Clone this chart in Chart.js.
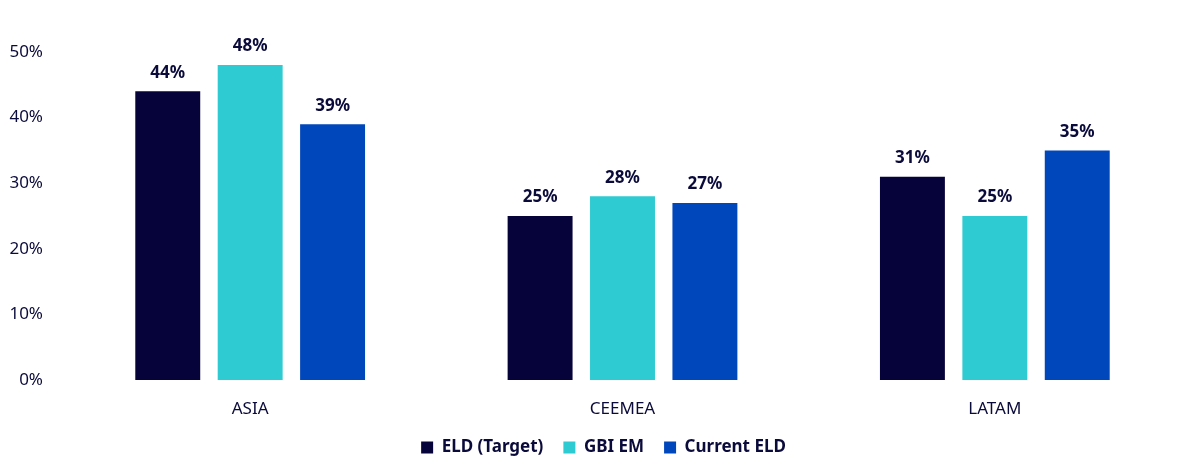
<!DOCTYPE html>
<html>
<head>
<meta charset="utf-8">
<script src="https://cdn.jsdelivr.net/npm/chart.js@4"></script>
<style>
  html, body { margin: 0; padding: 0; background: #fff; }
  #wrap { width: 1200px; height: 476px; }
</style>
</head>
<body>
<div id="wrap"><canvas id="regionChart"></canvas></div>
<script>
const regions = ['ASIA', 'CEEMEA', 'LATAM'];
const eldTarget = [44, 25, 31];
const gbiEm = [48, 28, 25];
const currentEld = [39, 27, 35];
const yTicks = [0, 10, 20, 30, 40, 50];

const textColor = '#0b0b3b';
const fontFamily = '"Source Sans Pro", "Noto Sans", "Open Sans", sans-serif';

// labels on top of each bar
const barLabels = {
    id: 'barLabels',
    afterLayout(chart) {
        // legend sits a bit right of centre in the original
        if (chart.legend) {
            chart.legend.left += 13;
            chart.legend.right += 13;
        }
    },
    afterDatasetsDraw(chart) {
        const ctx = chart.ctx;
        ctx.save();
        ctx.font = 'bold 17px ' + fontFamily;
        ctx.fillStyle = textColor;
        ctx.textAlign = 'center';
        ctx.textBaseline = 'bottom';
        chart.data.datasets.forEach((ds, i) => {
            chart.getDatasetMeta(i).data.forEach((bar, j) => {
                ctx.fillText(ds.data[j] + '%', bar.x, bar.y - 10);
            });
        });
        ctx.restore();
    }
};

new Chart(document.getElementById('regionChart'), {
    type: 'bar',
    data: {
        labels: regions,
        datasets: [
            { label: 'ELD (Target)', data: eldTarget, backgroundColor: '#06033a' },
            { label: 'GBI EM', data: gbiEm, backgroundColor: '#2ecbd2' },
            { label: 'Current ELD', data: currentEld, backgroundColor: '#0047bb' }
        ]
    },
    options: {
        responsive: true,
        maintainAspectRatio: false,
        animation: false,
        categoryPercentage: 0.664,
        barPercentage: 0.788,
        layout: { padding: { top: 52, right: 19, left: 0, bottom: 10 } },
        scales: {
            x: {
                afterFit(scale) { scale.height = 39; },
                grid: { display: false },
                border: { display: false },
                ticks: { color: textColor, font: { family: fontFamily, size: 17 }, padding: 11 }
            },
            y: {
                min: 0,
                max: 50,
                afterFit(scale) { scale.width = 64; },
                afterBuildTicks(scale) { scale.ticks = yTicks.map(v => ({ value: v })); },
                grid: { display: false },
                border: { display: false },
                ticks: {
                    color: textColor,
                    font: { family: fontFamily, size: 17 },
                    padding: 13,
                    callback: v => v + '%'
                }
            }
        },
        plugins: {
            legend: {
                position: 'bottom',
                labels: {
                    color: textColor,
                    font: { family: fontFamily, size: 17, weight: 'bold' },
                    boxWidth: 12,
                    boxHeight: 12,
                    padding: 20
                }
            },
            tooltip: { enabled: false }
        }
    },
    plugins: [barLabels]
});
</script>
</body>
</html>
